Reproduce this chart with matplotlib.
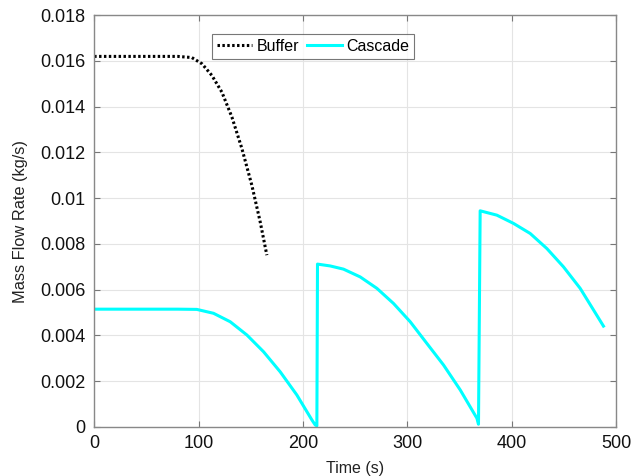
import matplotlib
matplotlib.use("Agg")
import matplotlib.pyplot as plt

# Buffer tank outflow
buffer_t = [0, 20, 40, 60, 80, 93.5, 103.2, 112.7, 122.3, 131.9, 141.5, 151, 159, 165.4]
buffer_m = [0.0162, 0.0162, 0.0162, 0.0162, 0.0162, 0.01615, 0.01588, 0.01537, 0.01464,
            0.01355, 0.01217, 0.01057, 0.00897, 0.00751]

# Cascade outflow: three discharge cycles
cascade_t = [0, 20, 40, 60, 80, 98.3, 114.3, 130.3, 146.3, 162.2, 178.2, 194.1, 208.5, 211.7,
             213.3, 213.9, 226, 238.8, 254.8, 270.8, 286.7, 302.7, 318.7, 334.6, 350.6, 366.6, 368.1,
             369.7, 385.7, 401.6, 417.6, 433.6, 449.5, 465.5, 487.8]
cascade_m = [0.00515, 0.00515, 0.00515, 0.00515, 0.00515, 0.00514, 0.00497, 0.00460, 0.00402,
             0.00329, 0.00241, 0.00140, 0.00031, 0.00009,
             0.00005, 0.00712, 0.00704, 0.00690, 0.00656, 0.00606, 0.00540, 0.00460, 0.00365,
             0.00271, 0.00162, 0.00038, 0.00012,
             0.00945, 0.00926, 0.00890, 0.00846, 0.00780, 0.00700, 0.00606, 0.00441]

x_ticks = [0, 100, 200, 300, 400, 500]
y_ticks = [0, 0.002, 0.004, 0.006, 0.008, 0.01, 0.012, 0.014, 0.016, 0.018]
y_tick_labels = ["0", "0.002", "0.004", "0.006", "0.008", "0.01", "0.012", "0.014", "0.016", "0.018"]

plt.rcParams["font.family"] = ["Liberation Sans", "DejaVu Sans"]

fig = plt.figure(figsize=(6.32, 4.76), dpi=100)
ax = fig.add_axes([0.149, 0.103, 0.826, 0.865])

ax.plot(buffer_t, buffer_m, color="black", linestyle=(0, (0.8, 0.8)), linewidth=2.2, label="Buffer")
ax.plot(cascade_t, cascade_m, color="#00ffff", linestyle="-", linewidth=2.2, label="Cascade")

ax.set_xlim(0, 500)
ax.set_ylim(0, 0.018)
ax.set_xticks(x_ticks)
ax.set_yticks(y_ticks)
ax.set_yticklabels(y_tick_labels)
ax.tick_params(direction="in", top=True, right=True, labelsize=13, length=4,
               color="#777777", labelcolor="#111111", pad=6)
ax.grid(True, color="#e4e4e4", linewidth=0.8)
ax.set_axisbelow(True)
for s in ax.spines.values():
    s.set_color("#888888")
    s.set_linewidth(1.0)

ax.set_xlabel("Time (s)", fontsize=11.5, labelpad=6, color="#222222")
ax.set_ylabel("Mass Flow Rate (kg/s)", fontsize=11.8, labelpad=9, color="#222222")

leg = ax.legend(loc="upper left", bbox_to_anchor=(0.226, 0.954), ncol=2, fontsize=11.5,
                frameon=True, fancybox=False, edgecolor="#555555", handlelength=2.2,
                columnspacing=0.45, handletextpad=0.3, borderpad=0.3, borderaxespad=0)
leg.get_frame().set_linewidth(0.8)

fig.savefig("out.png", dpi=100)
